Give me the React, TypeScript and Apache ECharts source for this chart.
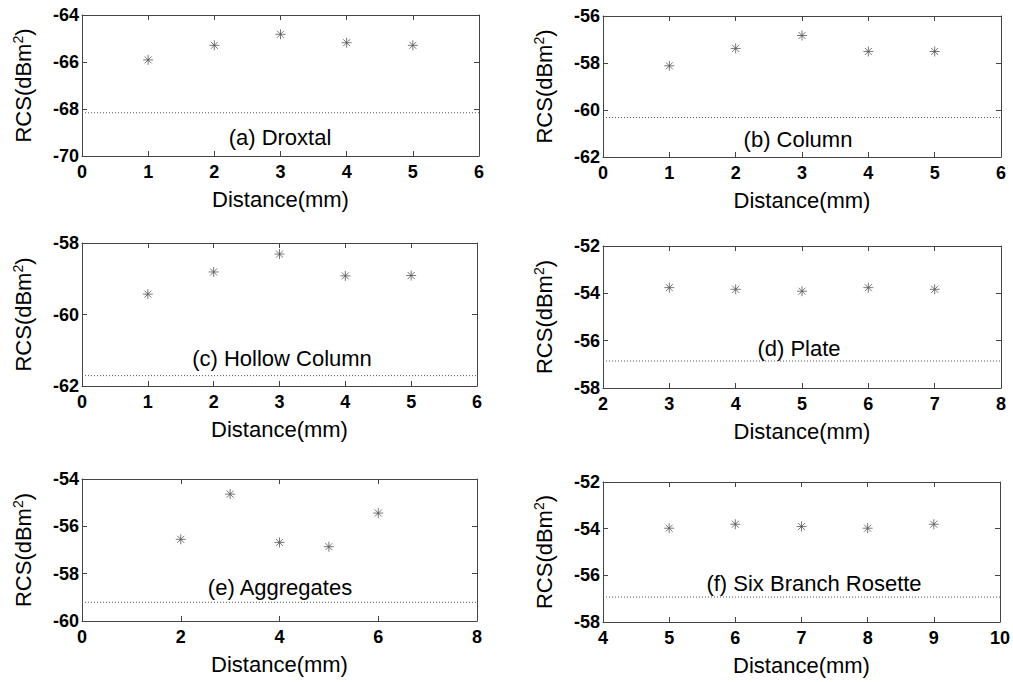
import React, { useEffect, useRef } from "react";
import * as echarts from "echarts";

// ---- data ----
const titles = ["(a) Droxtal", "(b) Column", "(c) Hollow Column", "(d) Plate", "(e) Aggregates", "(f) Six Branch Rosette"];

const distA = [1, 2, 3, 4, 5];
const rcsA = [-65.91, -65.29, -64.82, -65.18, -65.29];
const refA = -68.16;

const distB = [1, 2, 3, 4, 5];
const rcsB = [-58.12, -57.38, -56.83, -57.51, -57.51];
const refB = -60.32;

const distC = [1, 2, 3, 4, 5];
const rcsC = [-59.43, -58.81, -58.31, -58.92, -58.91];
const refC = -61.71;

const distD = [3, 4, 5, 6, 7];
const rcsD = [-53.76, -53.83, -53.91, -53.76, -53.83];
const refD = -56.86;

const distE = [2, 3, 4, 5, 6];
const rcsE = [-56.55, -54.64, -56.68, -56.86, -55.44];
const refE = -59.21;

const distF = [5, 6, 7, 8, 9];
const rcsF = [-53.98, -53.81, -53.91, -53.98, -53.81];
const refF = -56.93;

// axis ranges: [min, max, step]
const xRanges = [[0, 6, 1], [0, 6, 1], [0, 6, 1], [2, 8, 1], [0, 8, 2], [4, 10, 1]];
const yRanges = [[-70, -64, 2], [-62, -56, 2], [-62, -58, 2], [-58, -52, 2], [-60, -54, 2], [-58, -52, 2]];

const dists = [distA, distB, distC, distD, distE, distF];
const values = [rcsA, rcsB, rcsC, rcsD, rcsE, rcsF];
const refs = [refA, refB, refC, refD, refE, refF];

// layout
const grids = [
  { left: 82, top: 15, width: 397, height: 141 },
  { left: 603, top: 16, width: 398, height: 141 },
  { left: 82, top: 243, width: 395, height: 143 },
  { left: 603, top: 246, width: 398, height: 142 },
  { left: 82, top: 479, width: 395, height: 142 },
  { left: 603, top: 482, width: 398, height: 140 },
];
const titlePos = [
  [280, 137], [798, 139], [282, 358], [799, 348], [280, 587], [814, 583],
];

const FONT = "'Liberation Sans', Arial, sans-serif";
const AXC = "#444";
const STAR = "path://M0,-6L0,6M-6,0L6,0M-4.2,-4.2L4.2,4.2M-4.2,4.2L4.2,-4.2";

export default function App() {
  const ref = useRef<HTMLDivElement>(null);
  useEffect(() => {
    if (!ref.current) return;
    const chart = echarts.init(ref.current, undefined, { renderer: "svg" });
    const xAxis: any[] = [];
    const yAxis: any[] = [];
    const series: any[] = [];
    grids.forEach((g, i) => {
      const [x0, x1, xs] = xRanges[i];
      const [y0, y1, ys] = yRanges[i];
      const base = {
        type: "value",
        gridIndex: i,
        splitLine: { show: false },
        axisLine: { show: true, onZero: false, lineStyle: { color: AXC, width: 1 } },
        axisTick: { show: true, inside: true, length: 5, lineStyle: { color: AXC } },
      };
      xAxis.push({
        ...base, position: "bottom", min: x0, max: x1, interval: xs,
        axisLabel: { show: true, margin: 7, color: "#000", fontFamily: FONT, fontSize: 18, fontWeight: "bold" },
        name: "Distance(mm)", nameLocation: "middle", nameGap: 32,
        nameTextStyle: { color: "#000", fontFamily: FONT, fontSize: 22 },
      });
      xAxis.push({ ...base, position: "top", min: x0, max: x1, interval: xs, axisLabel: { show: false } });
      yAxis.push({
        ...base, position: "left", min: y0, max: y1, interval: ys,
        axisLabel: { show: true, margin: 3, color: "#000", fontFamily: FONT, fontSize: 18, fontWeight: "bold" },
        name: "{a|RCS(dBm}{s|2}{a|)}", nameLocation: "middle", nameGap: 46,
        nameTextStyle: {
          color: "#000",
          rich: {
            a: { fontFamily: FONT, fontSize: 22, color: "#000", lineHeight: 25 },
            s: { fontFamily: FONT, fontSize: 14, color: "#000", verticalAlign: "top" },
          },
        },
      });
      yAxis.push({ ...base, position: "right", min: y0, max: y1, interval: ys, axisLabel: { show: false } });

      series.push({
        type: "scatter",
        xAxisIndex: 2 * i,
        yAxisIndex: 2 * i,
        symbol: STAR,
        symbolSize: 10,
        itemStyle: { color: "transparent", borderColor: "#555", borderWidth: 1 },
        data: dists[i].map((d, k) => [d, values[i][k]]),
        z: 3,
      });
      series.push({
        type: "line",
        xAxisIndex: 2 * i,
        yAxisIndex: 2 * i,
        symbol: "none",
        lineStyle: { color: "#555", width: 1, type: [1, 2] },
        data: [[x0, refs[i]], [x1, refs[i]]],
        z: 2,
      });
    });

    chart.setOption({
      animation: false,
      backgroundColor: "#fff",
      grid: grids.map((g) => ({ ...g, containLabel: false })),
      xAxis,
      yAxis,
      series,
      graphic: titles.map((t, i) => ({
        type: "text",
        x: titlePos[i][0],
        y: titlePos[i][1],
        style: {
          text: t,
          fontFamily: FONT,
          fontSize: 22,
          fill: "#000",
          align: "center",
          verticalAlign: "middle",
        },
        z: 10,
      })),
    });
    return () => chart.dispose();
  }, []);
  return (
    <div
      ref={ref}
      style={{ position: "fixed", left: 0, top: 0, width: 1013, height: 682, background: "#fff" }}
    />
  );
}
